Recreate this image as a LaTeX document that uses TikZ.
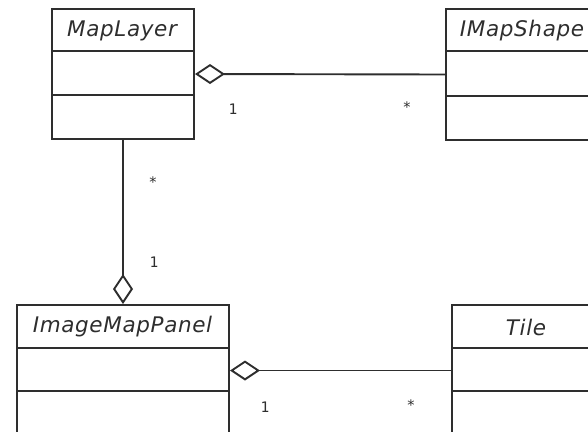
\documentclass[tikz,border=0pt]{standalone}
\usepackage{fontspec}
\setmainfont{DejaVu Sans}
\newfontfamily\titlefont[LetterSpace=3]{DejaVu Sans}
\newfontfamily\multfont{DejaVu Sans Mono}
\usetikzlibrary{arrows.meta}

\definecolor{ink}{HTML}{2E2E2E}

\tikzset{
  classbox/.style={draw=ink, line width=2pt, fill=white, inner sep=0pt},
  classname/.style={font=\titlefont\itshape\fontsize{21.5}{21.5}\selectfont, text=ink, inner sep=0pt},
  divider/.style={draw=ink, line width=2pt},
  assoc/.style={draw=ink, line width=1.9pt},
  aggr/.style={assoc, {Diamond[open, length=30pt, width=20pt, fill=white]}-},
  mult/.style={font=\multfont\fontsize{14.5}{14.5}\selectfont, text=ink, inner sep=0pt}
}

\begin{document}
\begin{tikzpicture}[x=1pt, y=-1pt]
\useasboundingbox (0,0) rectangle (588,431);

% class boxes
\node[classbox, minimum width=142pt, minimum height=130pt] (ml) at (123,74) {};
\node[classbox, minimum width=150pt, minimum height=131pt] (ims) at (521,74.5) {};
\node[classbox, minimum width=212pt, minimum height=131pt] (imp) at (123,370.5) {};
\node[classbox, minimum width=150pt, minimum height=131pt] (tile) at (527,370.5) {};

% compartments
\draw[divider] (ml.north west) ++(0,43) -- ++(142,0) ++(-142,44) -- ++(142,0);
\draw[divider] (ims.north west) ++(0,43) -- ++(150,0) ++(-150,45) -- ++(150,0);
\draw[divider] (imp.north west) ++(0,44) -- ++(212,0) ++(-212,43) -- ++(212,0);
\draw[divider] (tile.north west) ++(0,44) -- ++(150,0) ++(-150,43) -- ++(150,0);

% class names
\node[classname] (mlname) at (122,30.5) {MapLayer};
\node[classname] (imsname) at (522,30.5) {IMapShape};
\node[classname] (impname) at (122.5,327) {ImageMapPanel};
\node[classname] (tilename) at (526,327) {Tile};

% aggregations
\draw[aggr] (ml.east) -- (ims.west);
\draw[aggr] (imp.north) -- (ml.south);
\draw[aggr] (imp.east) -- (tile.west);

% multiplicities
\node[mult] (m1) at (233,109) {1};
\node[mult] (m2) at (407,107) {*};
\node[mult] (m3) at (153,182) {*};
\node[mult] (m4) at (154,262) {1};
\node[mult] (m5) at (265,407) {1};
\node[mult] (m6) at (411,405) {*};
\end{tikzpicture}
\end{document}
